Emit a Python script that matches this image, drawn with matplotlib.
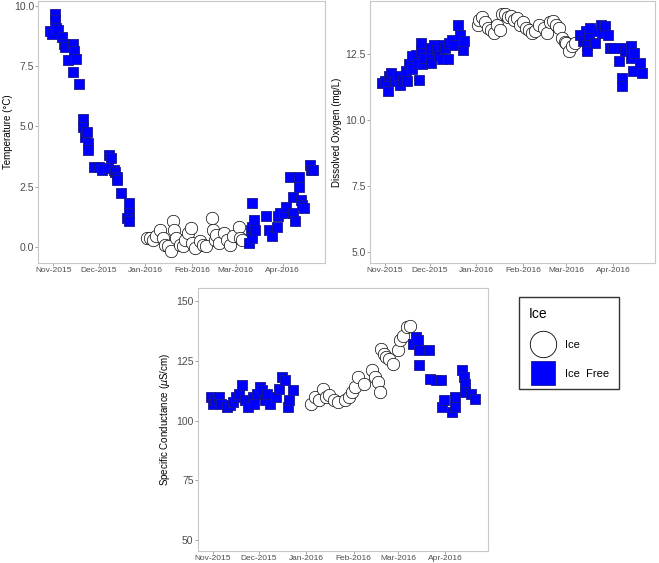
import numpy as np
import matplotlib
matplotlib.use("Agg")
import matplotlib.pyplot as plt
import matplotlib.dates as mdates
from matplotlib.lines import Line2D

plt.rcParams["font.family"] = ["Liberation Sans", "DejaVu Sans"]

# days counted from 2015-11-01
temp_free_day = [-2, -1, 1, 1, 2, 3, 6, 7, 8, 10, 13, 14, 15, 13, 17,
                 20, 20, 21, 22, 23, 23, 27, 30, 32, 36, 37, 38, 40, 41, 42, 42,
                 45, 50, 50, 49, 50,
                 130, 131, 132, 132, 132, 133, 134, 141, 143, 145, 148, 149, 150, 153, 154,
                 157, 159, 159, 160, 163, 163, 164, 165, 166, 170, 171, 172]
temp_free_val = [8.98, 8.85, 9.67, 9.4, 9.1, 9.0, 8.73, 8.43, 8.3, 7.74, 8.43, 8.15, 7.8, 7.26, 6.78,
                 5.33, 4.98, 4.57, 4.78, 4.3, 4.02, 3.33, 3.33, 3.2, 3.26, 3.8, 3.68, 3.2, 3.13, 2.92, 2.78,
                 2.23, 1.82, 1.4, 1.2, 1.06,
                 0.17, 0.72, 0.37, 0.85, 1.82, 1.13, 0.72, 1.27, 0.72, 0.44, 0.85, 1.27, 1.4, 1.4, 1.68,
                 2.92, 2.09, 1.4, 1.06, 2.92, 2.5, 1.96, 1.75, 1.6, 3.4, 3.2, 3.2]
temp_ice_day = [62, 64, 66, 68, 71, 73, 74, 76, 78, 79, 80, 81, 84, 86, 87, 89, 91, 92,
                94, 97, 99, 101, 105, 106, 107, 108, 110, 113, 115, 117, 119, 123, 124, 125]
temp_ice_val = [0.37, 0.37, 0.3, 0.44, 0.72, 0.37, 0.1, 0.03, -0.18, 1.06, 0.72, 0.37, 0.1, 0.03,
                0.3, 0.58, 0.79, 0.17, -0.04, 0.23, 0.1, 0.03, 1.2, 0.72, 0.3, 0.51, 0.17, 0.58,
                0.3, 0.1, 0.44, 0.85, 0.37, 0.3]

do_free_day = [-2, 0, 2, 3, 4, 7, 9, 10, 12, 14, 15, 16, 18, 18, 21, 22, 23, 24, 24, 25, 26,
               30, 31, 31, 33, 35, 36, 38, 38, 40, 42, 43, 45, 46, 49, 50, 52, 53,
               130, 132, 134, 135, 135, 136, 137, 140, 142, 144, 145, 147, 149, 150, 152,
               156, 158, 158, 158, 160, 164, 164, 165, 166, 170, 171]
do_free_val = [11.4, 11.47, 11.09, 11.66, 11.78, 11.47, 11.66, 11.34, 11.53, 11.85, 11.47, 12.1,
               11.91, 12.41, 12.47, 12.16, 11.53, 12.6, 12.91, 12.1, 12.35,
               12.47, 12.73, 12.16, 12.85, 12.66, 12.41, 12.85, 12.29, 12.73, 12.29, 12.91, 13.04,
               12.85, 13.6, 13.23, 12.66, 12.98,
               13.23, 12.98, 13.35, 12.85, 12.6, 13.23, 13.48, 12.91, 13.35, 13.6, 13.29, 13.54,
               13.23, 12.73, 12.73,
               12.22, 12.73, 11.6, 11.28, 12.6, 12.79, 12.35, 11.85, 12.54, 12.16, 11.78]
do_ice_day = [62, 63, 65, 67, 69, 71, 73, 75, 77, 78, 80, 82, 84, 86, 88, 90, 92, 94, 96,
              98, 100, 103, 106, 108, 110, 112, 114, 116, 118, 120, 121, 123, 125, 127]
do_ice_val = [13.6, 13.8, 13.9, 13.7, 13.5, 13.4, 13.3, 13.6, 13.4, 14.0, 14.0, 13.9, 13.95,
              13.8, 13.85, 13.6, 13.7, 13.5, 13.4, 13.3, 13.35, 13.6, 13.5, 13.3, 13.7, 13.75,
              13.6, 13.5, 13.1, 12.95, 12.9, 12.6, 12.8, 12.9]

sc_free_day = [-1, 0, 1, 4, 5, 9, 11, 13, 15, 17, 19, 21, 23, 26, 27, 29, 31, 32, 34, 35, 37,
               41, 43, 45, 47, 49, 50, 52,
               131, 133, 134, 135, 141, 135, 142, 146, 149, 150, 151, 156, 158, 158, 163, 164,
               165, 165, 169, 171]
sc_free_val = [109.9, 107.1, 108.5, 109.9, 107.1, 105.7, 106.4, 107.8, 109.9, 111.3, 114.8,
               108.5, 105.7, 109.9, 107.1, 111.3, 114.1, 112.7, 108.5, 111.3, 107.1,
               109.9, 113.4, 118.2, 116.9, 105.7, 108.5, 112.7,
               132.2, 135.0, 133.6, 129.4, 129.4, 123.1, 117.5, 116.9, 116.9, 105.7, 108.5,
               103.6, 109.9, 105.7, 121.0, 118.2, 115.5, 112.0, 111.3, 109.2]
sc_ice_day = [64, 67, 69, 72, 74, 76, 79, 82, 86, 89, 91, 93, 95, 99, 104, 106, 108, 109,
              110, 112, 113, 115, 118, 121, 122, 124, 127, 129]
sc_ice_val = [107.1, 109.9, 108.5, 113.4, 109.9, 110.6, 108.5, 107.8, 108.5, 109.9, 112.0,
              114.1, 118.2, 115.5, 121.0, 118.2, 116.2, 112.0, 130.0, 128.0, 126.6, 125.9,
              123.8, 129.4, 133.6, 135.6, 139.1, 139.8]

base = mdates.date2num(np.datetime64("2015-11-01"))
month_ticks = ["2015-11-01", "2015-12-01", "2016-01-01", "2016-02-01", "2016-03-01", "2016-04-01"]

panels = [
    ([0.058, 0.533, 0.435, 0.465], "Temperature (°C)", temp_free_day, temp_free_val,
     temp_ice_day, temp_ice_val, (-0.66, 10.2), [0, 2.5, 5, 7.5, 10], "%.1f", -0.088),
    ([0.561, 0.533, 0.433, 0.465], "Dissolved Oxygen (mg/L)", do_free_day, do_free_val,
     do_ice_day, do_ice_val, (4.58, 14.5), [5, 7.5, 10, 12.5], "%.1f", -0.098),
    ([0.300, 0.021, 0.441, 0.467], r"Specific Conductance ($\mu$S/cm)", sc_free_day, sc_free_val,
     sc_ice_day, sc_ice_val, (45.4, 155.4), [50, 75, 100, 125, 150], "%d", -0.09),
]

fig = plt.figure(figsize=(6.59, 5.63), dpi=100)
for rect, ylab, fd, fv, idy, iv, ylim, yt, fmt, labx in panels:
    ax = fig.add_axes(rect)
    ax.scatter(base + np.array(idy), iv, s=80, marker="o", facecolor="white",
               edgecolor="black", linewidth=0.5, zorder=2)
    ax.scatter(base + np.array(fd), fv, s=62, marker="s", facecolor="#0000ff",
               edgecolor="#1a1a8c", linewidth=0.6, zorder=3)
    ax.set_xlim(base - 10, base + 180)
    ax.set_ylim(*ylim)
    ax.set_xticks([mdates.date2num(np.datetime64(m)) for m in month_ticks])
    ax.xaxis.set_major_formatter(mdates.DateFormatter("%b-%Y"))
    ax.set_yticks(yt)
    ax.set_yticklabels([fmt % v for v in yt])
    ax.set_ylabel(ylab, fontsize=7)
    ax.yaxis.set_label_coords(labx, 0.5)
    ax.tick_params(axis="x", labelsize=6, colors="#7f7f7f", labelcolor="#4d4d4d",
                   length=2, width=0.5, pad=1)
    ax.tick_params(axis="y", labelsize=7.5, colors="#7f7f7f", labelcolor="#4d4d4d",
                   length=2, width=0.5, pad=1)
    for sp in ax.spines.values():
        sp.set_color("#c8c8c8")
        sp.set_linewidth(0.8)

handles = [
    Line2D([], [], marker="o", linestyle="", markersize=19, markerfacecolor="white",
           markeredgecolor="black", markeredgewidth=0.6, label="Ice"),
    Line2D([], [], marker="s", linestyle="", markersize=17, markerfacecolor="#0000ff",
           markeredgecolor="#1a1a8c", markeredgewidth=0.6, label="Ice  Free"),
]
leg = fig.legend(handles=handles, title="Ice", loc="upper left",
                 bbox_to_anchor=(519 / 659, 1 - 297 / 563), borderaxespad=0,
                 fontsize=8, title_fontsize=10,
                 frameon=True, fancybox=False, edgecolor="black", labelspacing=1.7,
                 handletextpad=0.6, borderpad=0.9, handlelength=2.6)
leg._legend_box.align = "left"
leg.get_frame().set_linewidth(1.0)

fig.savefig("out.png", dpi=100)
